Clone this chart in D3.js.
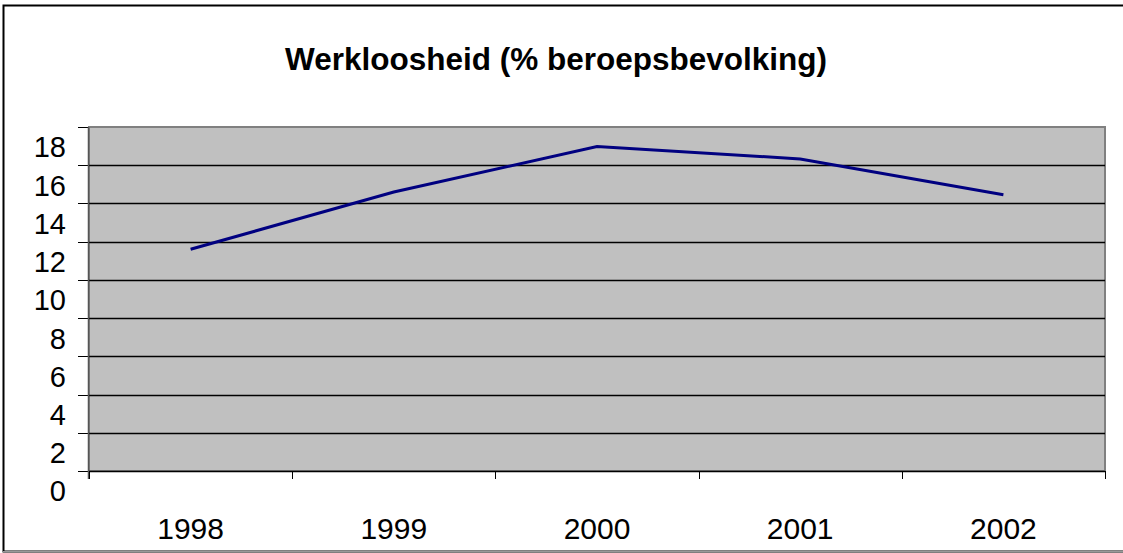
<!DOCTYPE html>
<html>
<head>
<meta charset="utf-8">
<script src="https://cdn.jsdelivr.net/npm/d3@7"></script>
<style>
  body { margin: 0; background: #fff; }
  text { font-family: "Liberation Sans", Arial, sans-serif; }
</style>
</head>
<body>
<script>
// data
var years = ["1998", "1999", "2000", "2001", "2002"];
var unemployment = [11.6, 14.6, 16.98, 16.33, 14.45];
var yTicks = [0, 2, 4, 6, 8, 10, 12, 14, 16, 18];
var chartTitle = "Werkloosheid (% beroepsbevolking)";

var W = 1123, H = 553;
var plot = { left: 89, top: 127, right: 1105, bottom: 471 };

let svg = d3.select("body").append("svg")
    .attr("width", W)
    .attr("height", H);

// outer chart border (runs off the right edge)
svg.append("rect")
    .attr("x", 3.5).attr("y", 5.5)
    .attr("width", W + 10).attr("height", 546)
    .attr("fill", "#fff")
    .attr("stroke", "#000")
    .attr("stroke-width", 2);
svg.append("line")
    .attr("x1", 3).attr("x2", W).attr("y1", 551.5).attr("y2", 551.5)
    .attr("stroke", "#999").attr("stroke-width", 1);

svg.append("text")
    .attr("x", 556)
    .attr("y", 70)
    .attr("text-anchor", "middle")
    .attr("font-size", "31.5px")
    .attr("font-weight", "bold")
    .text(chartTitle);

let xScale = d3.scaleBand()
    .domain(years)
    .range([plot.left, plot.right]);

let yScale = d3.scaleLinear()
    .domain([0, 18])
    .range([plot.bottom, plot.top]);

// plot area
svg.append("rect")
    .attr("x", plot.left)
    .attr("y", plot.top)
    .attr("width", plot.right - plot.left)
    .attr("height", plot.bottom - plot.top)
    .attr("fill", "#c0c0c0")
    .attr("stroke", "#808080")
    .attr("stroke-width", 2);

// gridlines
svg.append("g")
    .selectAll("line")
    .data(yTicks.filter(d => d > 0 && d < 18))
    .enter().append("line")
    .attr("x1", plot.left).attr("x2", plot.right)
    .attr("y1", d => Math.round(yScale(d)) + 0.5)
    .attr("y2", d => Math.round(yScale(d)) + 0.5)
    .attr("stroke", "#000")
    .attr("stroke-width", 1.3);

// y axis: ticks to the left, labels sit below their tick
let yAxis = svg.append("g").attr("id", "y-axis");
yAxis.selectAll("line.tick")
    .data(yTicks)
    .enter().append("line")
    .attr("class", "tick")
    .attr("x1", plot.left - 11).attr("x2", plot.left)
    .attr("y1", d => Math.round(yScale(d)) + 0.5)
    .attr("y2", d => Math.round(yScale(d)) + 0.5)
    .attr("stroke", "#000");
yAxis.selectAll("text")
    .data(yTicks)
    .enter().append("text")
    .attr("x", 66)
    .attr("y", d => yScale(d) + 20)
    .attr("dy", "0.36em")
    .attr("text-anchor", "end")
    .attr("font-size", "29px")
    .text(d => d);
yAxis.append("line")
    .attr("x1", plot.left - 0.5).attr("x2", plot.left - 0.5)
    .attr("y1", plot.top).attr("y2", plot.bottom + 8)
    .attr("stroke", "#555").attr("stroke-width", 1.5);

// x axis: ticks between categories
let xAxis = svg.append("g").attr("id", "x-axis");
xAxis.append("line")
    .attr("x1", plot.left).attr("x2", plot.right)
    .attr("y1", plot.bottom + 0.5).attr("y2", plot.bottom + 0.5)
    .attr("stroke", "#000").attr("stroke-width", 1.5);
let edges = years.map(d => xScale(d)).concat([plot.right]);
xAxis.selectAll("line.tick")
    .data(edges)
    .enter().append("line")
    .attr("class", "tick")
    .attr("x1", d => Math.round(d) + 0.5).attr("x2", d => Math.round(d) + 0.5)
    .attr("y1", plot.bottom).attr("y2", plot.bottom + 8)
    .attr("stroke", "#000");
xAxis.selectAll("text")
    .data(years)
    .enter().append("text")
    .attr("x", d => xScale(d) + xScale.bandwidth() / 2)
    .attr("y", 528)
    .attr("dy", "0.36em")
    .attr("text-anchor", "middle")
    .attr("font-size", "30px")
    .text(d => d);

// the line
let line = d3.line()
    .x((d, i) => xScale(years[i]) + xScale.bandwidth() / 2)
    .y(d => yScale(d));
svg.append("path")
    .datum(unemployment)
    .attr("d", line)
    .attr("fill", "none")
    .attr("stroke", "#000080")
    .attr("stroke-width", 3);
</script>
</body>
</html>
